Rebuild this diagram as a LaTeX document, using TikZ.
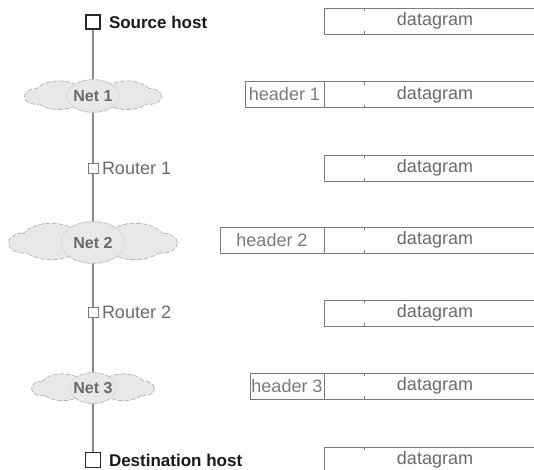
\documentclass[tikz,border=0pt]{standalone}
\usepackage{fontspec}
\setmainfont{Liberation Sans}
\usetikzlibrary{backgrounds}
\definecolor{linegray}{HTML}{8A8A8A}
\definecolor{boxgray}{HTML}{7A7A7A}
\definecolor{textgray}{HTML}{6A6A6A}
\definecolor{cloudfill}{HTML}{E8E8E8}
\definecolor{cloudline}{HTML}{B0B0B0}
\definecolor{cloudinner}{HTML}{D8D8D8}
\tikzset{
  x=1pt, y=-1pt,
  every node/.style={font=\fontsize{18}{20}\selectfont, inner sep=0pt, outer sep=0pt},
  hostbox/.style={draw=black!85, fill=white, line width=1.1pt, minimum size=14pt},
  routerbox/.style={draw=boxgray, fill=white, line width=0.9pt, minimum size=10pt},
  hostlabel/.style={anchor=west, text=black!90, font=\fontsize{17}{19}\selectfont\bfseries},
  routerlabel/.style={anchor=west, text=textgray},
  netlabel/.style={text=textgray, font=\fontsize{16}{18}\selectfont\bfseries},
  cloudborder/.style={draw=cloudline, line width=1.6pt, dash pattern=on 5pt off 1.5pt},
  cloudbody/.style={fill=cloudfill},
  cloudseam/.style={draw=cloudinner, line width=0.6pt},
  pkt/.style={draw=boxgray, line width=0.9pt},
  pkttext/.style={text=textgray},
  hdrtext/.style={text=textgray!90},
  link/.style={draw=linegray, line width=1.4pt}
}
% #1 name, #2 cx, #3 cy, #4 half width, #5 half height, #6 label
\newcommand\NetCloud[6]{%
  \def\cloudlobes{%
    (#2,#3) ellipse [x radius={0.38*#4 pt}, y radius={1.0*#5 pt}]
    ({#2-0.5*#4},{#3-0.05*#5}) ellipse [x radius={0.36*#4 pt}, y radius={0.87*#5 pt}]
    ({#2+0.5*#4},{#3-0.05*#5}) ellipse [x radius={0.36*#4 pt}, y radius={0.87*#5 pt}]
    ({#2-0.83*#4},{#3+0.03*#5}) ellipse [x radius={0.17*#4 pt}, y radius={0.47*#5 pt}]
    ({#2+0.83*#4},{#3+0.03*#5}) ellipse [x radius={0.17*#4 pt}, y radius={0.47*#5 pt}]
  }%
  \path[cloudborder] \cloudlobes;
  \path[cloudbody] \cloudlobes;
  \path[cloudseam] (#2,#3) ellipse [x radius={0.38*#4 pt}, y radius={1.0*#5 pt}];
  \node[netlabel, minimum width={2*#4 pt}, minimum height={2*#5 pt}] (#1) at (#2,#3) {#6};
}
\begin{document}
\begin{tikzpicture}
\useasboundingbox (0,0) rectangle (534,469);
\clip (0,0) rectangle (534,469);
% network path
\node[hostbox] (src) at (93,22) {};
\node[hostlabel] (srcl) at (109,22) {Source host};
\NetCloud{net1}{93}{96}{68}{16}{Net 1}
\node[routerbox] (r1) at (93,168) {};
\node[routerlabel] (r1l) at (102,168) {Router 1};
\NetCloud{net2}{93}{242.5}{84}{20.5}{Net 2}
\node[routerbox] (r2) at (93,312) {};
\node[routerlabel] (r2l) at (102,312) {Router 2};
\NetCloud{net3}{93}{388}{61}{15}{Net 3}
\node[hostbox, minimum size=15pt] (dst) at (93,460) {};
\node[hostlabel] (dstl) at (109,460) {Destination host};
\begin{scope}[on background layer]
\draw[link] (src.center) -- (net1.center) -- (r1.center) -- (net2.center) -- (r2.center) -- (net3.center) -- (dst.center);
\end{scope}
% packets
\foreach \i/\y in {1/21,2/94.5,3/168,4/240,5/313,6/386,7/460}{
  \draw[pkt] (324,\y-13) rectangle (545,\y+13);
  \draw[pkt, line width=0.6pt] (364,\y-13) -- (364,\y-10) (364,\y+13) -- (364,\y+10);
  \node[pkttext] (dg\i) at (435,\y) {datagram};
}
\draw[pkt] (245,81.5) rectangle (324,107.5);
\node[hdrtext] (h1) at (284.5,94.5) {header 1};
\draw[pkt] (220,227) rectangle (324,253);
\node[hdrtext] (h2) at (272,240) {header 2};
\draw[pkt] (250,373) rectangle (324,399);
\node[hdrtext] (h3) at (287,386) {header 3};
\end{tikzpicture}
\end{document}
